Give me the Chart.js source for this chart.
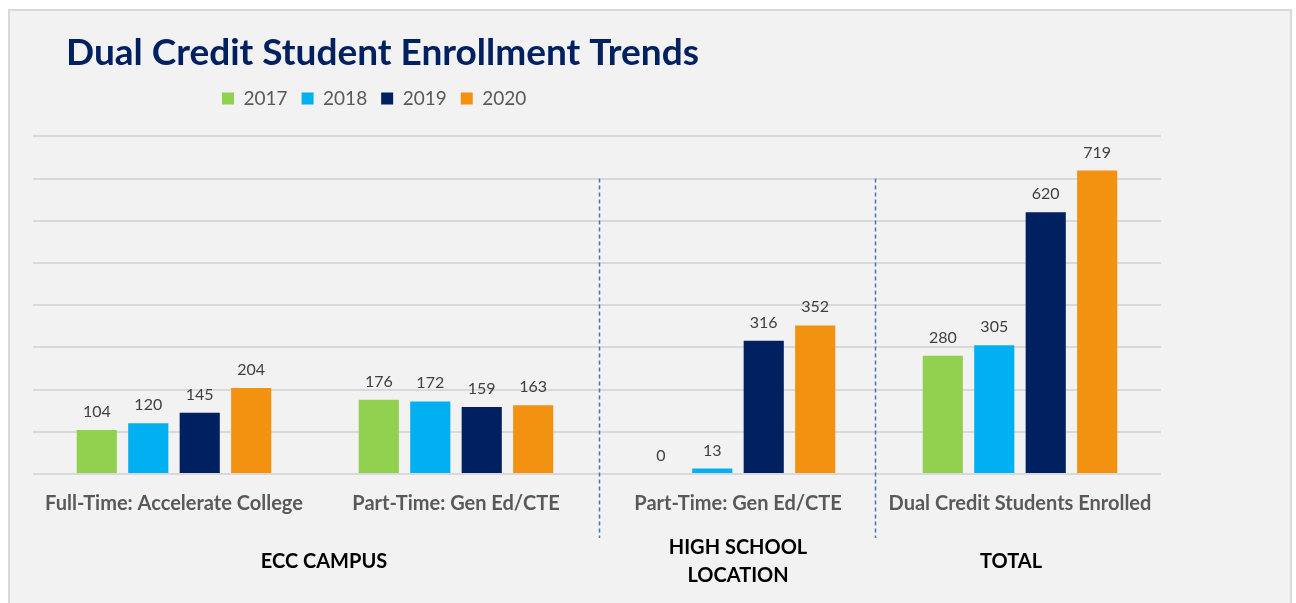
<!DOCTYPE html>
<html>
<head>
<meta charset="utf-8">
<script src="https://cdn.jsdelivr.net/npm/chart.js@4.4.1/dist/chart.umd.min.js"></script>
<style>
    body { margin: 0; background: #fff; }
    #frame { position: absolute; left: 8px; top: 9px; width: 1280px; height: 600px; border: 2px solid #d9d9d9; background: #f2f2f2; }
    #wrap { position: relative; width: 1280px; height: 600px; }
</style>
</head>
<body>
<div id="frame"><div id="wrap"><canvas id="chart"></canvas></div></div>
<script>
const categories = ['Full-Time: Accelerate College', 'Part-Time: Gen Ed/CTE', 'Part-Time: Gen Ed/CTE', 'Dual Credit Students Enrolled'];
const years = ['2017', '2018', '2019', '2020'];
const values2017 = [104, 176, 0, 280];
const values2018 = [120, 172, 13, 305];
const values2019 = [145, 159, 316, 620];
const values2020 = [204, 163, 352, 719];
const yearColors = ['#92d050', '#00b0f0', '#002060', '#f39110'];
const groupLabels = [['ECC CAMPUS'], ['HIGH SCHOOL', 'LOCATION'], ['TOTAL']];
const groupSpans = [[0, 1], [2, 2], [3, 3]];

const FONT = 'Lato';

window.addEventListener('load', () => {
    buildEnrollmentChart();
});

// moves title and legend to where the original sits
const placeHeader = {
    id: 'placeHeader',
    afterLayout(chart) {
        const title = chart.titleBlock;
        title.left = 56;
        title.right = 1100;
        title.top += 1;
        const legend = chart.legend;
        legend.left = 198;
        legend.right = 1100;
        legend.top = 64;
        legend.bottom = legend.top + legend.height;
    }
};

const valueLabels = {
    id: 'valueLabels',
    afterDatasetsDraw(chart) {
        const ctx = chart.ctx;
        ctx.save();
        ctx.font = '16px ' + FONT;
        ctx.fillStyle = '#404040';
        ctx.textAlign = 'center';
        ctx.textBaseline = 'alphabetic';
        chart.data.datasets.forEach((ds, i) => {
            chart.getDatasetMeta(i).data.forEach((bar, j) => {
                ctx.fillText(String(ds.data[j]), bar.x, bar.y - 13);
            });
        });
        ctx.restore();
    }
};

const groupMarks = {
    id: 'groupMarks',
    afterDraw(chart) {
        const ctx = chart.ctx;
        const x = chart.scales.x;
        const y = chart.scales.y;
        const bottom = chart.chartArea.bottom;
        const sepShift = [2, -4];
        const labelShift = [9, 0, -9];
        ctx.save();

        // dashed separators between groups
        ctx.strokeStyle = '#4472c4';
        ctx.lineWidth = 1.5;
        ctx.setLineDash([4, 3]);
        groupSpans.slice(0, -1).forEach((span, g) => {
            const mid = (x.getPixelForValue(span[1]) + x.getPixelForValue(span[1] + 1)) / 2;
            const sx = Math.round(mid + sepShift[g]) + 0.5;
            ctx.beginPath();
            ctx.moveTo(sx, y.getPixelForValue(700));
            ctx.lineTo(sx, bottom + 64);
            ctx.stroke();
        });

        ctx.setLineDash([]);
        ctx.font = 'bold 20px ' + FONT;
        ctx.fillStyle = '#000';
        ctx.textAlign = 'center';
        ctx.textBaseline = 'middle';
        groupLabels.forEach((lines, g) => {
            const span = groupSpans[g];
            const cx = (x.getPixelForValue(span[0]) + x.getPixelForValue(span[1])) / 2 + labelShift[g];
            const cy = bottom + 88;
            lines.forEach((line, k) => {
                ctx.fillText(line, cx, cy + (k - (lines.length - 1) / 2) * 28);
            });
        });
        ctx.restore();
    }
};

function buildEnrollmentChart() {
    const chartCtx = document.getElementById('chart').getContext('2d');
    const series = [values2017, values2018, values2019, values2020];

    new Chart(chartCtx, {
        type: 'bar',
        data: {
            labels: categories,
            datasets: years.map((year, i) => ({
                label: year,
                data: series[i],
                backgroundColor: yearColors[i],
                borderWidth: 0,
                categoryPercentage: 0.73,
                barPercentage: 0.78
            }))
        },
        options: {
            responsive: true,
            maintainAspectRatio: false,
            animation: false,
            layout: {
                padding: { left: 23, right: 129, top: 0, bottom: 0 }
            },
            plugins: {
                tooltip: { enabled: false },
                title: {
                    display: true,
                    text: 'Dual Credit Student Enrollment Trends',
                    align: 'start',
                    color: '#002060',
                    font: { family: FONT, size: 37, weight: 'bold' },
                    padding: { top: 19, bottom: 19 }
                },
                legend: {
                    position: 'top',
                    align: 'start',
                    labels: {
                        boxWidth: 12,
                        boxHeight: 12,
                        padding: 14,
                        color: '#595959',
                        font: { family: FONT, size: 19 }
                    }
                }
            },
            scales: {
                x: {
                    grid: { display: false, drawTicks: false },
                    border: { display: false },
                    ticks: {
                        color: '#595959',
                        padding: 18,
                        maxRotation: 0,
                        autoSkip: false,
                        font: { family: FONT, size: 20, weight: 'bold' }
                    },
                    afterFit(scale) {
                        scale.height = 137;
                    }
                },
                y: {
                    min: 0,
                    max: 800,
                    ticks: { display: false, stepSize: 100 },
                    grid: { color: '#d9d9d9', lineWidth: 2, drawTicks: false },
                    border: { display: false }
                }
            }
        },
        plugins: [placeHeader, valueLabels, groupMarks]
    });
}
</script>
</body>
</html>
